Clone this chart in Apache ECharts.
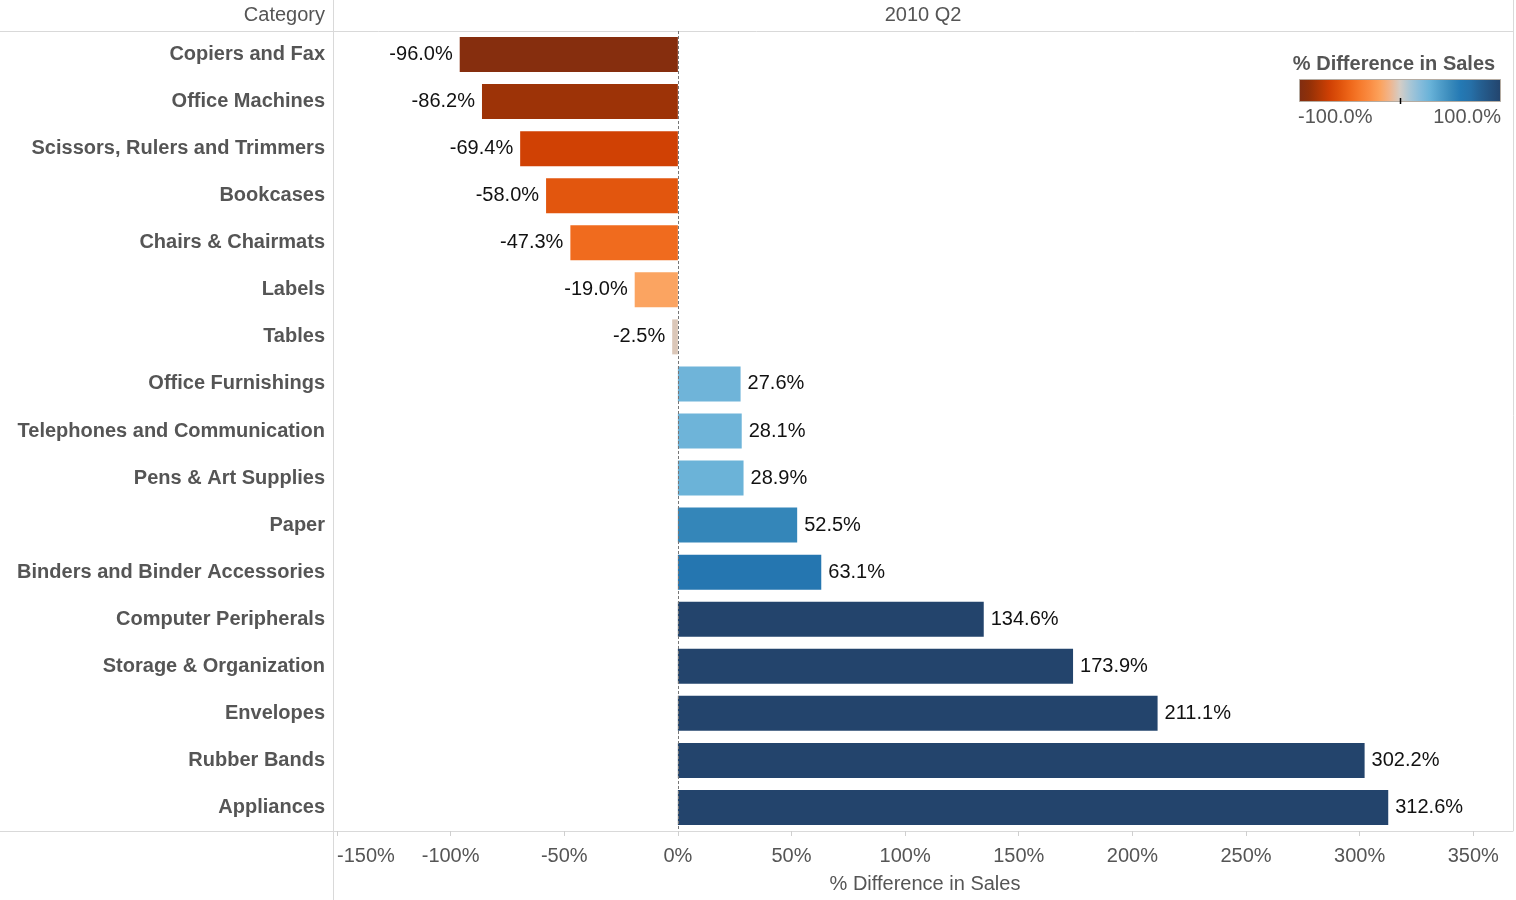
<!DOCTYPE html>
<html>
<head>
<meta charset="utf-8">
<script src="https://cdn.jsdelivr.net/npm/echarts@6/dist/echarts.min.js"></script>
<style>
html,body{margin:0;padding:0;background:#fff;}
#chart{width:1516px;height:900px;}
</style>
</head>
<body>
<div id="chart"></div>
<script>
var categories = ['Copiers and Fax','Office Machines','Scissors, Rulers and Trimmers','Bookcases','Chairs & Chairmats','Labels','Tables','Office Furnishings','Telephones and Communication','Pens & Art Supplies','Paper','Binders and Binder Accessories','Computer Peripherals','Storage & Organization','Envelopes','Rubber Bands','Appliances'];
var values = [-96.0,-86.2,-69.4,-58.0,-47.3,-19.0,-2.5,27.6,28.1,28.9,52.5,63.1,134.6,173.9,211.1,302.2,312.6];
var colorStops = ['#7f2d12','#913008','#b03805','#cf4004','#df520b','#ee6619','#f67a2c','#fa8c42','#fca25c','#f0b58d','#d4cdc6','#a8c6d6','#86bcdb','#68b2d8','#4f9dc9','#398abb','#2479b4','#2670a8','#255f91','#24517e','#23446c'];

var FONT = '"Liberation Sans", Arial, Helvetica, sans-serif';
var chart = echarts.init(document.getElementById('chart'), null, {renderer:'canvas'});
var lineColor = '#d9d9d9';

var data = values.map(function(v,i){ return [v, categories[i]]; });
var gradStops = colorStops.map(function(c,i){ return {offset: i/(colorStops.length-1), color: c}; });

chart.setOption({
  backgroundColor:'#fff',
  animation:false,
  textStyle:{fontFamily:FONT},
  grid:{left:337, right:3, top:31, bottom:69, containLabel:false, outerBoundsMode:'none'},
  visualMap:{
    type:'continuous', show:false, min:-100, max:100, dimension:0, seriesIndex:0,
    unboundedRange:true,
    inRange:{color:colorStops}
  },
  xAxis:{
    type:'value', min:-150, max:367.5, interval:50,
    axisLine:{show:true, lineStyle:{color:lineColor}},
    axisTick:{show:true, length:5, lineStyle:{color:'#cfcfcf'}},
    splitLine:{show:false},
    axisLabel:{color:'#555', fontSize:20, fontFamily:FONT, margin:15, showMaxLabel:false, alignMinLabel:'left',
      formatter:function(v){ return v + '%'; }},
    name:'% Difference in Sales', nameLocation:'middle', nameGap:43,
    nameTextStyle:{color:'#555', fontSize:20, fontFamily:FONT}
  },
  yAxis:{
    type:'category', data:categories, inverse:true,
    axisLine:{show:false}, axisTick:{show:false}, splitLine:{show:false},
    axisLabel:{color:'#555', fontSize:20, fontWeight:'bold', fontFamily:FONT, margin:12}
  },
  series:[{
    type:'bar', barWidth:35,
    encode:{x:0, y:1},
    data: data.map(function(d){
      return {value:d, label:{position: d[0] < 0 ? 'left' : 'right'}};
    }),
    label:{show:true, fontSize:20, fontFamily:FONT, color:'#111', distance:7,
      formatter:function(p){ return p.value[0].toFixed(1) + '%'; }},
    markLine:{
      silent:true, symbol:['none','none'],
      label:{show:false},
      lineStyle:{color:'#777', type:[3,2], width:1},
      data:[{xAxis:0}]
    }
  }],
  graphic:[
    {type:'line', shape:{x1:0,y1:31.5,x2:1513,y2:31.5}, style:{stroke:lineColor, lineWidth:1}, z:0},
    {type:'line', shape:{x1:0,y1:831.5,x2:1513,y2:831.5}, style:{stroke:lineColor, lineWidth:1}, z:0},
    {type:'line', shape:{x1:333.5,y1:0,x2:333.5,y2:900}, style:{stroke:lineColor, lineWidth:1}, z:0},
    {type:'line', shape:{x1:1513.5,y1:0,x2:1513.5,y2:831}, style:{stroke:lineColor, lineWidth:1}, z:0},
    {type:'text', x:325, y:15, style:{text:'Category', textAlign:'right', textVerticalAlign:'middle', fill:'#555', font:'20px '+FONT}},
    {type:'text', x:923, y:15, style:{text:'2010 Q2', textAlign:'center', textVerticalAlign:'middle', fill:'#555', font:'20px '+FONT}},
    {type:'text', x:1394, y:64, style:{text:'% Difference in Sales', textAlign:'center', textVerticalAlign:'middle', fill:'#555', font:'bold 20px '+FONT}},
    {type:'rect', shape:{x:1299.5,y:79.5,width:201,height:22},
      style:{fill:new echarts.graphic.LinearGradient(0,0,1,0,gradStops), stroke:'#b5aca2', lineWidth:1}},
    {type:'line', shape:{x1:1400.5,y1:98,x2:1400.5,y2:104}, style:{stroke:'#000', lineWidth:1.5}},
    {type:'text', x:1298, y:117, style:{text:'-100.0%', textAlign:'left', textVerticalAlign:'middle', fill:'#555', font:'20px '+FONT}},
    {type:'text', x:1501, y:117, style:{text:'100.0%', textAlign:'right', textVerticalAlign:'middle', fill:'#555', font:'20px '+FONT}}
  ]
});
</script>
</body>
</html>
